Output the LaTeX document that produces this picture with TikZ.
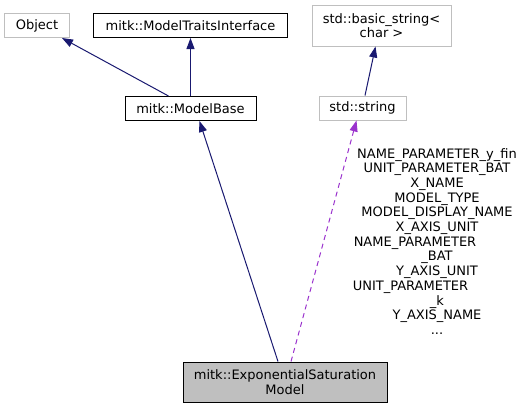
\documentclass[tikz,border=0pt]{standalone}
\usepackage{fontspec}
\setmainfont{DejaVu Sans}
\usetikzlibrary{positioning, arrows.meta}
\definecolor{DoxNavy}{HTML}{191970}
\definecolor{DoxOrchid}{HTML}{9A32CD}
\definecolor{DoxGray}{HTML}{BFBFBF}

\begin{document}
\begin{tikzpicture}[
        x=1bp, y=-1bp,
        font=\fontsize{13bp}{14.7bp}\selectfont,
        classbox/.style={
            rectangle, draw=black, line width=1bp, inner sep=0pt,
            minimum height=24bp, text centered, align=center
        },
        extbox/.style={classbox, draw=DoxGray},
        thisbox/.style={classbox, fill=DoxGray, minimum height=40bp},
        note/.style={align=center, inner sep=0pt, anchor=north},
        arrow/.style={line width=1bp, -{Triangle[length=11bp, width=8bp]}, color=DoxNavy},
        usage/.style={line width=1bp, -{Triangle[length=11bp, width=8bp]}, dash pattern=on 5bp off 4bp, color=DoxOrchid}
    ]
    \useasboundingbox (0,0) rectangle (525,408);

    % Base classes
    \node (object) [extbox, minimum width=64bp] at (37, 25.5) {Object};
    \node (traits) [classbox, minimum width=194bp] at (190.5, 25.5) {mitk::ModelTraitsInterface};
    \node (base) [classbox, minimum width=131bp] at (190.5, 108.5) {mitk::ModelBase};

    % String types
    \node (basicstr) [extbox, minimum width=139bp, minimum height=41bp] at (381.5, 25.5) {std::basic\_string<\\char >};
    \node (stdstr) [extbox, minimum width=87bp] at (362.5, 108) {std::string};

    % The documented class
    \node (expsat) [thisbox, minimum width=204bp] at (285, 382) {mitk::ExponentialSaturation\\Model};

    % Inheritance arrows
    \draw [arrow] ([xshift=-22bp]base.north) -- ([xshift=25bp]object.south);
    \draw [arrow] (base.north) -- (traits.south);
    \draw [arrow] ([xshift=-7bp]expsat.north) -- ([xshift=9bp]base.south);
    \draw [arrow] ([xshift=2.5bp]stdstr.north) -- ([xshift=-6bp]basicstr.south);

    % Usage arrow with member names
    \draw [usage] ([xshift=6bp]expsat.north) -- ([xshift=-6bp]stdstr.south);
    \node (members) [note] at (437, 148) {
        NAME\_PARAMETER\_y\_fin\\
        UNIT\_PARAMETER\_BAT\\
        X\_NAME\\
        MODEL\_TYPE\\
        MODEL\_DISPLAY\_NAME\\
        X\_AXIS\_UNIT\\
        NAME\_PARAMETER\hbox to 44bp{}\\
        \_BAT\\
        Y\_AXIS\_UNIT\\
        UNIT\_PARAMETER\hbox to 53bp{}\\
        \_k\\
        Y\_AXIS\_NAME\\
        ...
    };

    \end{tikzpicture}
\end{document}
